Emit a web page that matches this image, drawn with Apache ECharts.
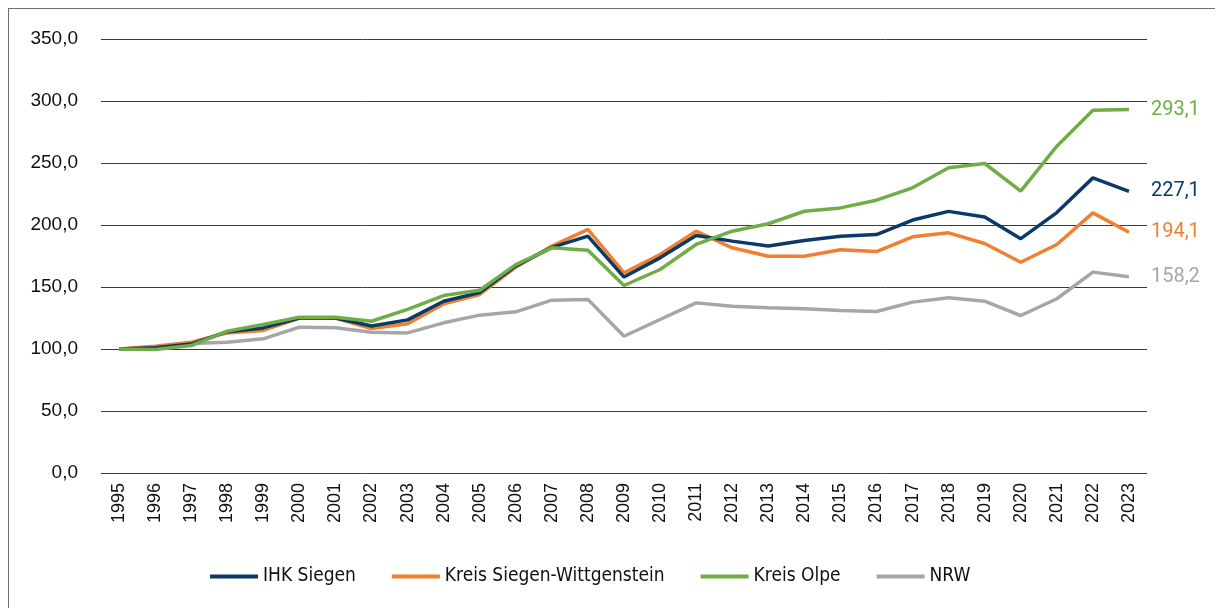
<!DOCTYPE html>
<html>
<head>
<meta charset="utf-8">
<script src="https://cdn.jsdelivr.net/npm/echarts@6/dist/echarts.min.js"></script>
<style>
html,body{margin:0;padding:0;background:#fff;}
#frame{position:absolute;left:8px;top:8px;width:1300px;height:700px;border:1.5px solid #6e6e6e;box-sizing:border-box;}
#chart{position:absolute;left:0;top:0;width:1215px;height:608px;}
</style>
</head>
<body>
<div id="frame"></div>
<div id="chart"></div>
<script>
const years = ['1995','1996','1997','1998','1999','2000','2001','2002','2003','2004','2005','2006','2007','2008','2009','2010','2011','2012','2013','2014','2015','2016','2017','2018','2019','2020','2021','2022','2023'];
const ihkSiegen = [100,101,104,114,117,125,125,118.5,123.5,138.5,145.5,167,182,191,158,173.5,191.5,187,183,187.5,191,192.3,204,211,206.5,189,210,238,227.1];
const kreisSiegenWittgenstein = [100,102.3,105.5,113,115,125,125,116.5,120.3,136.4,144,166,183,196.4,161.4,176.2,195,181.6,174.8,174.8,180,178.6,190.5,193.7,185.1,170,184.3,209.8,194.1];
const kreisOlpe = [100,99.6,102.8,114.4,119.8,125.7,125.6,122.4,131.9,143.1,147.4,168.1,181.6,179.7,151.2,164.1,184.3,195,201,211.1,213.8,220,230,246.1,249.6,227.3,263.6,292.6,293.1];
const nrw = [100,101,104.4,105.5,108.2,117.6,117.1,113.5,113,121.1,127.3,130,139.4,140,110.3,123.8,137.2,134.5,133.2,132.4,131,130.2,137.8,141.3,138.6,127,140.5,162,158.2];
const seriesNames = ['IHK Siegen','Kreis Siegen-Wittgenstein','Kreis Olpe','NRW'];
const colors = ['#0b3a68','#f07f2f','#70ad47','#a6a6a6'];

const fmt = v => Number(v).toFixed(1).replace('.', ',');
const chart = echarts.init(document.getElementById('chart'));
const mk = (name, data, color, z) => ({
  name, type: 'line', data, z,
  symbol: 'none',
  lineStyle: {color, width: 3.5},
  itemStyle: {color},
  endLabel: {show: true, distance: 22, color, fontFamily: 'Roboto', fontSize: 20,
    formatter: p => fmt(p.value)},
  emphasis: {disabled: true}
});
chart.setOption({
  animation: false,
  grid: {left: 101, right: 68, top: 39, bottom: 135, containLabel: false},
  legend: {
    data: seriesNames, bottom: 17, left: 205,
    itemWidth: 48, itemHeight: 4, itemGap: 36,
    icon: 'rect',
    textStyle: {fontFamily: 'DejaVu Sans Condensed', fontSize: 19, color: '#111', padding: [0, 0, 0, 0]}
  },
  xAxis: {
    type: 'category', data: years, boundaryGap: true,
    axisLine: {show: false}, axisTick: {show: false},
    axisLabel: {rotate: 90, fontFamily: 'Liberation Sans', fontSize: 18, color: '#111', margin: 10}
  },
  yAxis: {
    type: 'value', min: 0, max: 350, interval: 50,
    axisLine: {show: false}, axisTick: {show: false},
    axisLabel: {formatter: fmt, fontFamily: 'Liberation Sans', fontSize: 19, color: '#111', margin: 23},
    splitLine: {lineStyle: {color: '#3a3a3a', width: 1}}
  },
  series: [
    mk(seriesNames[3], nrw, colors[3], 2),
    mk(seriesNames[1], kreisSiegenWittgenstein, colors[1], 3),
    mk(seriesNames[0], ihkSiegen, colors[0], 4),
    mk(seriesNames[2], kreisOlpe, colors[2], 5)
  ]
});
</script>
</body>
</html>
